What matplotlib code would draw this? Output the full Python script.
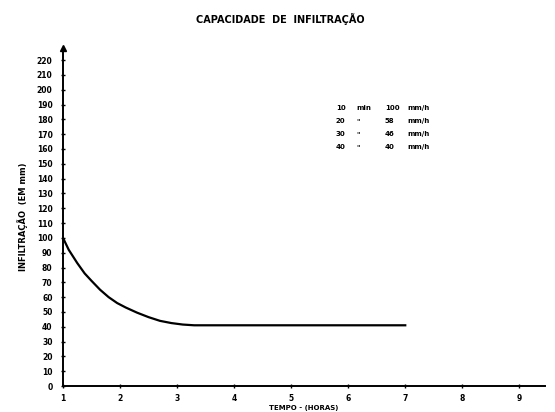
import matplotlib.pyplot as plt

# curve (tempo in horas, infiltracao in mm/h)
tempo = [1.0, 1.1, 1.25, 1.38, 1.5, 1.65, 1.8, 1.95, 2.1, 2.3, 2.5, 2.7,
         2.9, 3.1, 3.3, 4.0, 5.0, 6.0, 7.0]
infiltracao = [100, 92, 83, 76, 71, 65, 60, 56, 53, 49.5, 46.5, 44,
               42.5, 41.5, 41, 41, 41, 41, 41]

x_ticks = [1, 2, 3, 4, 5, 6, 7, 8, 9]
y_ticks = list(range(0, 230, 10))

tabela_t = ['10', '20', '30', '40']
tabela_u = ['min', '"', '"', '"']
tabela_f = ['100', '58', '46', '40']

plt.rcParams.update({'font.size': 6, 'font.weight': 'bold'})
fig = plt.figure(figsize=(5.55, 4.12), dpi=100)
ax = fig.add_axes([0.1135, 0.063, 0.8685, 0.82])

ax.plot(tempo, infiltracao, color='black', linewidth=1.6)

ax.set_xlim(1, 9.45)
ax.set_ylim(0, 228)
ax.set_xticks(x_ticks)
ax.set_yticks(y_ticks)
ax.tick_params(axis='both', direction='inout', length=3, width=1, labelsize=5.5)
ax.tick_params(axis='y', pad=6)
ax.tick_params(axis='x', pad=4)

for s in ['top', 'right']:
    ax.spines[s].set_visible(False)
ax.spines['left'].set_linewidth(1.4)
ax.spines['bottom'].set_linewidth(1.4)
ax.plot([0], [1], marker='^', markersize=4, color='black',
        transform=ax.transAxes, clip_on=False)

ax.set_xlabel('TEMPO - (HORAS)', fontsize=5, fontweight='bold', labelpad=2)
ax.set_ylabel('INFILTRAÇÃO  (EM mm)', fontsize=6, fontweight='bold', labelpad=6)

for i in range(len(tabela_t)):
    yy = 0.822 - i * 0.038
    kw = dict(transform=ax.transAxes, fontsize=5, va='center')
    ax.text(0.566, yy, tabela_t[i], **kw)
    ax.text(0.608, yy, tabela_u[i], **kw)
    ax.text(0.668, yy, tabela_f[i], **kw)
    ax.text(0.715, yy, 'mm/h', **kw)

fig.text(0.505, 0.955, 'CAPACIDADE  DE  INFILTRAÇÃO', ha='center', va='center',
         fontsize=7, fontweight='bold')

fig.savefig('out.png', dpi=100)
